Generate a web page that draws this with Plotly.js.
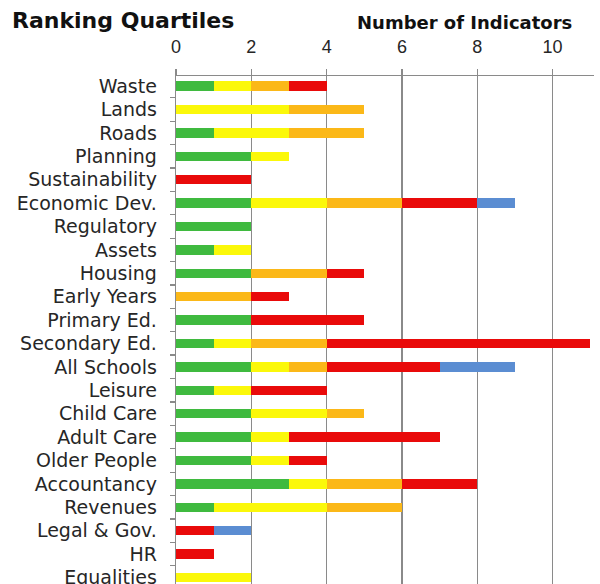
<!DOCTYPE html>
<html>
<head>
<meta charset="utf-8">
<script src="https://cdn.plot.ly/plotly-3.0.1.min.js"></script>
<style>
html,body{margin:0;padding:0;background:#fff;}
#chart{width:600px;height:584px;}
</style>
</head>
<body>
<div id="chart"></div>
<script>
const categories = ["Waste","Lands","Roads","Planning","Sustainability","Economic Dev.","Regulatory","Assets","Housing","Early Years","Primary Ed.","Secondary Ed.","All Schools","Leisure","Child Care","Adult Care","Older People","Accountancy","Revenues","Legal & Gov.","HR","Equalities"];
const quartile1 = [1,0,1,2,0,2,2,1,2,0,2,1,2,1,2,2,2,3,1,0,0,0];
const quartile2 = [1,3,2,1,0,2,0,1,0,0,0,1,1,1,2,1,1,1,3,0,0,2];
const quartile3 = [1,2,2,0,0,2,0,0,2,2,0,2,1,0,1,0,0,2,2,0,0,0];
const quartile4 = [1,0,0,0,2,2,0,0,1,1,3,7,3,2,0,4,1,2,0,1,1,0];
const notRanked = [0,0,0,0,0,1,0,0,0,0,0,0,2,0,0,0,0,0,0,1,0,0];
const xTicks = [0,2,4,6,8,10];

const seriesList = [
  {name:"Q1", vals:quartile1, color:"#3fba3f"},
  {name:"Q2", vals:quartile2, color:"#fbf80a"},
  {name:"Q3", vals:quartile3, color:"#fbb818"},
  {name:"Q4", vals:quartile4, color:"#e90a0a"},
  {name:"n/a", vals:notRanked, color:"#5b8dd2"}
];

const traces = seriesList.map(s => ({
  type:"bar", orientation:"h", name:s.name,
  y:categories, x:s.vals,
  marker:{color:s.color, line:{width:0}},
  hoverinfo:"skip"
}));

const grey = "#8a8a8a";
const layout = {
  width:600, height:584,
  margin:{l:176, r:6, t:76, b:0, pad:0},
  paper_bgcolor:"#fff", plot_bgcolor:"#fff",
  barmode:"stack", bargap:0.6, showlegend:false,
  font:{family:"DejaVu Sans, Liberation Sans, Arial, sans-serif", color:"#262626"},
  xaxis:{
    side:"top", range:[0,11.1], tickvals:xTicks, ticktext:xTicks.map(String),
    showgrid:true, gridcolor:grey, gridwidth:1.3, zeroline:false,
    showline:true, linecolor:grey, linewidth:1.3,
    ticks:"outside", ticklen:6, tickcolor:grey, tickwidth:1.3,
    ticklabelstandoff:9,
    tickfont:{family:"Liberation Sans Narrow, Arial Narrow, Liberation Sans, sans-serif", size:18, color:"#262626"},
    fixedrange:true
  },
  yaxis:{
    type:"category", categoryorder:"array", categoryarray:categories,
    range:[21.28,-0.43],
    showgrid:false, zeroline:false,
    showline:true, linecolor:grey, linewidth:1.3,
    ticks:"outside", tickson:"boundaries", ticklen:5, tickcolor:grey, tickwidth:1.3,
    ticklabelstandoff:14,
    tickfont:{family:"DejaVu Sans, Liberation Sans, sans-serif", size:19, color:"#262626"},
    fixedrange:true
  },
  annotations:[
    {text:"<b>Ranking Quartiles</b>", xref:"paper", yref:"paper", x:-0.397, y:(584-21)/508,
     xanchor:"left", yanchor:"middle", showarrow:false,
     font:{family:"DejaVu Sans, Liberation Sans, sans-serif", size:22, color:"#111"}},
    {text:"<b>Number of Indicators</b>", xref:"paper", yref:"paper", x:(464-176)/418, y:(584-23)/508,
     xanchor:"center", yanchor:"middle", showarrow:false,
     font:{family:"DejaVu Sans, Liberation Sans, sans-serif", size:18, color:"#111"}}
  ]
};

Plotly.newPlot("chart", traces, layout, {displayModeBar:false, staticPlot:true});
</script>
</body>
</html>
